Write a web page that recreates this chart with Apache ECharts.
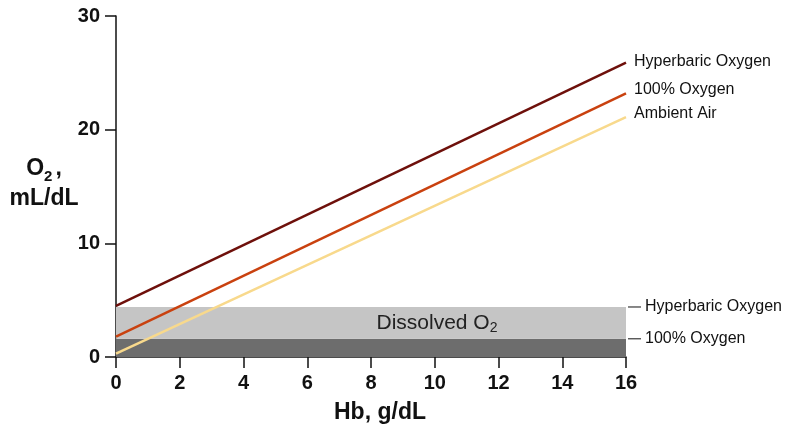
<!DOCTYPE html>
<html><head><meta charset="utf-8">
<script src="https://cdn.jsdelivr.net/npm/echarts@6/dist/echarts.min.js"></script>
<style>html,body{margin:0;padding:0;background:#fff}#c{width:785px;height:431px}</style>
</head><body><div id="c"></div>
<script>
// Data
const hb = [0, 16];
const seriesNames = ['Hyperbaric Oxygen', '100% Oxygen', 'Ambient Air'];
const hyperbaric = [4.5, 25.9];
const oxygen100 = [1.8, 23.2];
const ambientAir = [0.3, 21.1];
const dissolvedNames = ['100% Oxygen', 'Hyperbaric Oxygen'];
const dissolvedLevels = [1.6, 4.4];
const dissolvedLabel = 'Dissolved O';

const FONT = 'Liberation Sans, Arial, Helvetica, sans-serif';
const colors = ['#6e100b', '#c9410f', '#f8d98c'];
const labelOffsets = [[0, -1], [0, -4], [0, -4]];

function pts(vals) { return hb.map((x, i) => [x, vals[i]]); }
const lineData = [hyperbaric, oxygen100, ambientAir];

const chart = echarts.init(document.getElementById('c'), null, {renderer: 'canvas'});
const option = {
  animation: false,
  backgroundColor: '#fff',
  textStyle: {fontFamily: FONT},
  grid: {left: 116, right: 159, top: 16, bottom: 74, containLabel: false},
  xAxis: {
    type: 'value', min: 0, max: 16, interval: 2,
    name: 'Hb, g/dL', nameLocation: 'middle', nameGap: 56, nameMoveOverlap: false,
    nameTextStyle: {fontSize: 23, fontWeight: 'bold', color: '#111', fontFamily: FONT, verticalAlign: 'middle', padding: [0, 0, 0, 18]},
    axisLine: {show: true, lineStyle: {color: '#111', width: 1.5}},
    axisTick: {show: true, length: 11, lineStyle: {color: '#111', width: 1.5}},
    axisLabel: {fontSize: 20, fontWeight: 'bold', color: '#111', margin: 16, fontFamily: FONT},
    splitLine: {show: false}
  },
  yAxis: {
    type: 'value', min: 0, max: 30, interval: 10,
    name: '{a|O}{s|2}{a|,}\n{a|mL/dL}', nameLocation: 'middle', nameGap: 72, nameRotate: 0, nameMoveOverlap: false,
    nameTextStyle: {
      align: 'center', verticalAlign: 'middle', color: '#111', fontFamily: FONT, padding: [0, 0, 5, 0],
      rich: {
        a: {fontSize: 23, fontWeight: 'bold', color: '#111', fontFamily: FONT, lineHeight: 30},
        s: {fontSize: 15, fontWeight: 'bold', color: '#111', fontFamily: FONT, lineHeight: 30, padding: [15, 3, 0, 0]}
      }
    },
    axisLine: {show: true, lineStyle: {color: '#111', width: 1.5}},
    axisTick: {show: true, length: 11, lineStyle: {color: '#111', width: 1.5}},
    axisLabel: {fontSize: 20, fontWeight: 'bold', color: '#111', margin: 16, fontFamily: FONT},
    splitLine: {show: false}
  },
  series: [
    {
      type: 'line', name: 'bands', data: [], z: 1, silent: true,
      markArea: {
        silent: true,
        data: [
          [{yAxis: 0, itemStyle: {color: '#6d6d6d'}}, {yAxis: dissolvedLevels[0]}],
          [{yAxis: dissolvedLevels[0], itemStyle: {color: '#c5c5c5'},
            label: {show: true, position: 'inside', offset: [66, 0], formatter: dissolvedLabel + '{s|2}', fontSize: 21, color: '#222', fontFamily: FONT,
              rich: {s: {fontSize: 14, color: '#222', fontFamily: FONT, padding: [10, 0, 0, 0]}}}},
           {yAxis: dissolvedLevels[1]}]
        ],
        label: {show: false}
      }
    }
  ].concat(lineData.map((d, i) => ({
    type: 'line', name: seriesNames[i], data: pts(d), z: 3,
    symbol: 'none', lineStyle: {color: colors[i], width: 2.5},
    endLabel: {show: true, formatter: seriesNames[i], fontSize: 16, color: '#111', fontFamily: FONT, distance: 8, offset: labelOffsets[i]}
  })))
};
chart.setOption(option);

// Right-side labels for dissolved levels, positioned through the axis scale
const g = [];
dissolvedLevels.forEach((lv, i) => {
  const p = chart.convertToPixel({gridIndex: 0}, [16, lv]);
  g.push({type: 'line', shape: {x1: p[0] + 2, y1: p[1], x2: p[0] + 15, y2: p[1]}, style: {stroke: '#111', lineWidth: 1}});
  g.push({type: 'text', x: p[0] + 19, y: p[1], style: {text: dissolvedNames[i], font: '16px ' + FONT, fill: '#111', textVerticalAlign: 'middle', verticalAlign: 'middle'}});
});
chart.setOption({graphic: g});
</script>
</body></html>
